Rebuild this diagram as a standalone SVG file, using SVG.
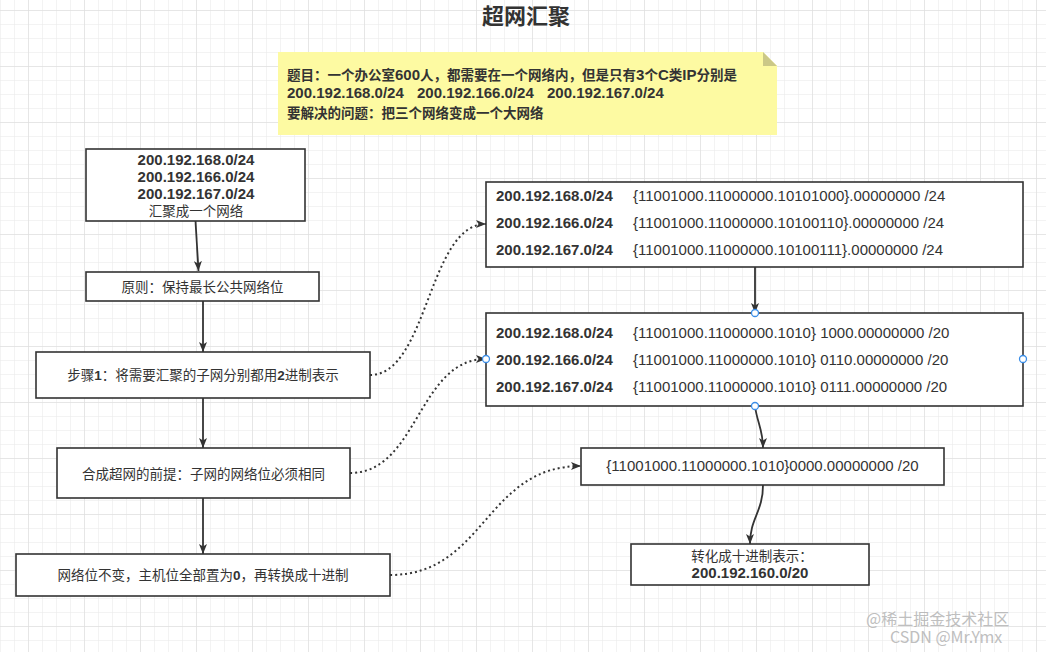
<svg xmlns="http://www.w3.org/2000/svg" width="1046" height="652" viewBox="0 0 1046 652">
<style>
.box{fill:#ffffff;stroke:#333333;stroke-width:1.6}
.t{fill:#333333;font-family:"Liberation Sans","Noto Sans CJK SC",sans-serif}
.ip{font-size:15px;font-weight:bold}
.bin{font-size:15px;font-weight:normal}
.cj{font-size:13.5px;font-weight:normal}
.cjb{font-size:13.5px;font-weight:bold}
.conn{fill:none;stroke:#333333;stroke-width:1.8}
.dot{fill:none;stroke:#333333;stroke-width:2;stroke-dasharray:2 3}
.pt{fill:#ffffff;stroke:#3b8ee8;stroke-width:1.3}
.wm{fill:#aaaaaa;opacity:0.75;font-family:"Noto Sans CJK SC","Liberation Sans",sans-serif;font-size:16px}
</style>
<defs>
<pattern id="minor" width="14" height="14" patternUnits="userSpaceOnUse" x="0" y="10">
<path d="M14,0 H0 V14" fill="none" stroke="#e8e8e8" stroke-width="1"/>
</pattern>
<pattern id="major" width="56" height="56" patternUnits="userSpaceOnUse" x="28" y="10">
<path d="M56,0 H0 V56" fill="none" stroke="#dadada" stroke-width="1"/>
</pattern>
<marker id="arr" viewBox="0 0 10 8" refX="10" refY="4" markerWidth="10" markerHeight="8" markerUnits="userSpaceOnUse" orient="auto">
<path d="M0,0 L10,4 L0,8 L2.5,4 Z" fill="#333333"/>
</marker>
</defs>
<rect width="1046" height="652" fill="#ffffff"/>
<rect width="1046" height="652" fill="url(#minor)"/>
<rect width="1046" height="652" fill="url(#major)"/>

<g id="title">
<text class="t" x="526" y="24" text-anchor="middle" font-size="22" font-weight="bold">超网汇聚</text>
</g>

<g id="note">
<path d="M278,52 H763 L777,66 V135 H278 Z" fill="#fdfaa2"/>
<path d="M763,52 V66 H777 Z" fill="#cbc887"/>
<text class="t cjb" x="287" y="80">题目：一个办公室<tspan class="ip">600</tspan>人，都需要在一个网络内，但是只有<tspan class="ip">3</tspan>个<tspan class="ip">C</tspan>类<tspan class="ip">IP</tspan>分别是</text>
<text class="t ip" x="287" y="98">200.192.168.0/24</text>
<text class="t ip" x="417" y="98">200.192.166.0/24</text>
<text class="t ip" x="547" y="98">200.192.167.0/24</text>
<text class="t cjb" x="287" y="118">要解决的问题：把三个网络变成一个大网络</text>
</g>

<g id="n1">
<rect class="box" x="86" y="149" width="219" height="72"/>
<text class="t ip" x="196" y="165" text-anchor="middle">200.192.168.0/24</text>
<text class="t ip" x="196" y="182" text-anchor="middle">200.192.166.0/24</text>
<text class="t ip" x="196" y="199" text-anchor="middle">200.192.167.0/24</text>
<text class="t cj" x="196" y="216" text-anchor="middle">汇聚成一个网络</text>
</g>

<g id="n2">
<rect class="box" x="86" y="272" width="233" height="29"/>
<text class="t cj" x="202.5" y="292" text-anchor="middle">原则：保持最长公共网络位</text>
</g>

<g id="n3">
<rect class="box" x="36" y="352" width="334" height="46"/>
<text class="t cj" x="203" y="380" text-anchor="middle">步骤<tspan font-weight="bold">1</tspan>：将需要汇聚的子网分别都用<tspan font-weight="bold">2</tspan>进制表示</text>
</g>

<g id="n4">
<rect class="box" x="57" y="448" width="293" height="50"/>
<text class="t cj" x="203.5" y="479" text-anchor="middle">合成超网的前提：子网的网络位必须相同</text>
</g>

<g id="n5">
<rect class="box" x="16" y="554" width="374" height="42"/>
<text class="t cj" x="203" y="580" text-anchor="middle">网络位不变，主机位全部置为<tspan font-weight="bold">0</tspan>，再转换成十进制</text>
</g>

<g id="nA">
<rect class="box" x="486" y="182" width="537" height="85"/>
<text class="t ip" x="496" y="201">200.192.168.0/24</text>
<text class="t bin" x="633" y="201">{11001000.11000000.10101000}.00000000 /24</text>
<text class="t ip" x="496" y="228">200.192.166.0/24</text>
<text class="t bin" x="633" y="228">{11001000.11000000.10100110}.00000000 /24</text>
<text class="t ip" x="496" y="255">200.192.167.0/24</text>
<text class="t bin" x="633" y="255">{11001000.11000000.10100111}.00000000 /24</text>
</g>

<g id="nB">
<rect class="box" x="486" y="313" width="537" height="93"/>
<text class="t ip" x="496" y="338">200.192.168.0/24</text>
<text class="t bin" x="633" y="338">{11001000.11000000.1010} 1000.00000000 /20</text>
<text class="t ip" x="496" y="365">200.192.166.0/24</text>
<text class="t bin" x="633" y="365">{11001000.11000000.1010} 0110.00000000 /20</text>
<text class="t ip" x="496" y="392">200.192.167.0/24</text>
<text class="t bin" x="633" y="392">{11001000.11000000.1010} 0111.00000000 /20</text>
</g>

<g id="nC">
<rect class="box" x="581" y="448" width="363" height="37"/>
<text class="t bin" x="762.5" y="471" text-anchor="middle">{11001000.11000000.1010}0000.00000000 /20</text>
</g>

<g id="nD">
<rect class="box" x="631" y="544" width="238" height="41"/>
<text class="t cj" x="752" y="561" text-anchor="middle">转化成十进制表示：</text>
<text class="t ip" x="750" y="578" text-anchor="middle">200.192.160.0/20</text>
</g>

<g id="connectors">
<path class="conn" d="M195.5,221 L198.5,271" marker-end="url(#arr)"/>
<path class="conn" d="M203,301 L203,352" marker-end="url(#arr)"/>
<path class="conn" d="M203,398 L203,448" marker-end="url(#arr)"/>
<path class="conn" d="M203,498 L203,554" marker-end="url(#arr)"/>
<path class="conn" d="M755,267 L755,313" marker-end="url(#arr)"/>
<path class="conn" d="M755,406 C757,422 763,430 763,448" marker-end="url(#arr)"/>
<path class="conn" d="M763,485 C763,512 750,518 750,544" marker-end="url(#arr)"/>
<path class="dot" d="M370,375 C428,375 428,224 486,224" marker-end="url(#arr)"/>
<path class="dot" d="M350,473 C418,473 418,359 486,359" marker-end="url(#arr)"/>
<path class="dot" d="M390,575 C485,575 485,466 581,466" marker-end="url(#arr)"/>
<circle class="pt" cx="755" cy="313" r="3.5"/>
<circle class="pt" cx="486" cy="359" r="3.5"/>
<circle class="pt" cx="1023" cy="359" r="3.5"/>
<circle class="pt" cx="755" cy="406" r="3.5"/>
</g>

<g id="watermark">
<text class="wm" x="866" y="625">@稀土掘金技术社区</text>
<text class="wm" x="890" y="643" font-family="Liberation Sans, sans-serif">CSDN @Mr.Ymx</text>
</g>
</svg>
